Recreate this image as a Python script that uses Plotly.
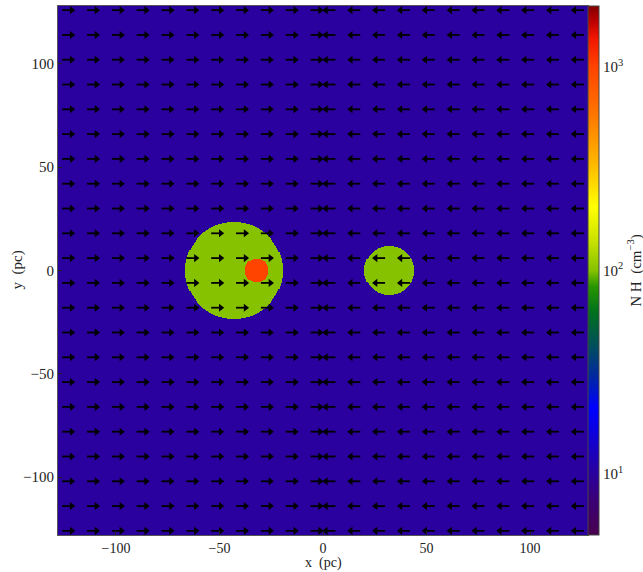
import numpy as np
import plotly.graph_objects as go

# ---------------- data ----------------
box_range = [-128, 128]            # pc
background_nH = 10.0               # cm^-3
cloud_x = [-43.0, -32.0, 32.0]     # pc
cloud_y = [0.0, 0.0, 0.0]
cloud_r = [23.5, 5.7, 12.0]
cloud_nH = [100.0, 1000.0, 100.0]

# velocity arrow grid (pc)
grid_x = [-126, -114, -102, -90, -78, -66, -54, -42, -30, -18, -6,
          6, 18, 30, 42, 54, 66, 78, 90, 102, 114, 126]
grid_y = [-126, -114, -102, -90, -78, -66, -54, -42, -30, -18, -6,
          6, 18, 30, 42, 54, 66, 78, 90, 102, 114, 126]
vel_x_dir = [1, 1, 1, 1, 1, 1, 1, 1, 1, 1, 1,
             -1, -1, -1, -1, -1, -1, -1, -1, -1, -1, -1]
arrow_len = 6.0

x_ticks = [-100, -50, 0, 50, 100]
y_ticks = [-100, -50, 0, 50, 100]
cbar_ticks = [1, 2, 3]
cbar_labels = ["10<sup>1</sup>", "10<sup>2</sup>", "10<sup>3</sup>"]
cbar_min, cbar_max = np.log10(5.0), np.log10(2000.0)

FONT = "Liberation Serif"

# ---------------- density map ----------------
n = 512
cell = (box_range[1] - box_range[0]) / n
xc = box_range[0] + cell * (np.arange(n) + 0.5)
yc = box_range[0] + cell * (np.arange(n) + 0.5)
XX, YY = np.meshgrid(xc, yc)
dens = np.full_like(XX, background_nH)
for cx, cy, r, nh in zip(cloud_x, cloud_y, cloud_r, cloud_nH):
    dens[(XX - cx) ** 2 + (YY - cy) ** 2 <= r ** 2] = nh
logd = np.log10(dens)

def T(v):
    return (v - cbar_min) / (cbar_max - cbar_min)

colorscale = [
    [0.0, "rgb(72,0,78)"],
    [0.06, "rgb(60,0,115)"],
    [T(1.0), "rgb(42,0,158)"],
    [0.2, "rgb(10,0,225)"],
    [0.24, "rgb(0,0,255)"],
    [0.30, "rgb(0,40,160)"],
    [0.36, "rgb(0,80,90)"],
    [0.42, "rgb(0,112,30)"],
    [0.47, "rgb(40,150,0)"],
    [0.5, "rgb(134,194,0)"],
    [0.56, "rgb(205,228,0)"],
    [0.62, "rgb(255,255,0)"],
    [0.70, "rgb(255,185,0)"],
    [0.80, "rgb(255,115,0)"],
    [T(3.0), "rgb(255,68,0)"],
    [0.94, "rgb(240,22,0)"],
    [0.975, "rgb(180,0,0)"],
    [1.0, "rgb(130,0,0)"],
]

fig = go.Figure()
fig.add_trace(go.Heatmap(
    x=xc, y=yc, z=logd, zmin=cbar_min, zmax=cbar_max,
    colorscale=colorscale, zsmooth=False, hoverinfo="skip",
    colorbar=dict(
        x=1.0, xanchor="left", xpad=0, y=0.5, yanchor="middle",
        len=1.0, lenmode="fraction", ypad=0, thickness=11,
        outlinewidth=1, outlinecolor="#444",
        tickvals=cbar_ticks, ticktext=cbar_labels,
        ticks="", ticklabelposition="outside",
        tickfont=dict(family=FONT, size=15, color="#222"),
        title=dict(text="N H  (cm<sup>−3</sup>)", side="right",
                   font=dict(family=FONT, size=15, color="#222")),
    ),
))

# ---------------- arrows ----------------
shaft_x, shaft_y, head_x, head_y, head_sym = [], [], [], [], []
for j, gy in enumerate(grid_y):
    for i, gx in enumerate(grid_x):
        d = vel_x_dir[i]
        tip = gx + d * arrow_len
        shaft_x += [gx, tip - d * 1.5, None]
        shaft_y += [gy, gy, None]
        head_x.append(tip - d * 1.4)
        head_y.append(gy)
        head_sym.append("triangle-right" if d > 0 else "triangle-left")

fig.add_trace(go.Scatter(x=shaft_x, y=shaft_y, mode="lines",
                         line=dict(color="black", width=1.8),
                         hoverinfo="skip", showlegend=False))
fig.add_trace(go.Scatter(x=head_x, y=head_y, mode="markers",
                         marker=dict(symbol=head_sym, size=7, color="black",
                                     line=dict(width=0)),
                         cliponaxis=True, hoverinfo="skip", showlegend=False))

axis_common = dict(showline=True, mirror=True, linecolor="#555", linewidth=1,
                   ticks="inside", ticklen=4, tickcolor="#222",
                   showgrid=False, zeroline=False)
fig.update_xaxes(range=box_range, tickvals=x_ticks,
                 tickfont=dict(family=FONT, size=14, color="#222"), **axis_common)
fig.update_yaxes(range=box_range, tickvals=y_ticks,
                 tickfont=dict(family=FONT, size=15, color="#222"), **axis_common)

fig.add_annotation(text="x  (pc)", xref="paper", yref="paper",
                   x=0.5, y=-(572 - 535) / 529, xanchor="center", yanchor="bottom",
                   borderpad=0, showarrow=False,
                   font=dict(family=FONT, size=14, color="#222"))
fig.add_annotation(text="y  (pc)", xref="paper", yref="paper",
                   x=(17 - 58) / 530, y=0.5, xanchor="center", yanchor="middle",
                   textangle=-90, borderpad=0, showarrow=False,
                   font=dict(family=FONT, size=15, color="#222"))

fig.update_layout(width=643, height=572,
                  margin=dict(l=58, r=55, t=6, b=37, autoexpand=False),
                  paper_bgcolor="white", plot_bgcolor="white",
                  font=dict(family=FONT, size=15, color="#222"),
                  showlegend=False)

fig.write_html("out.html")
